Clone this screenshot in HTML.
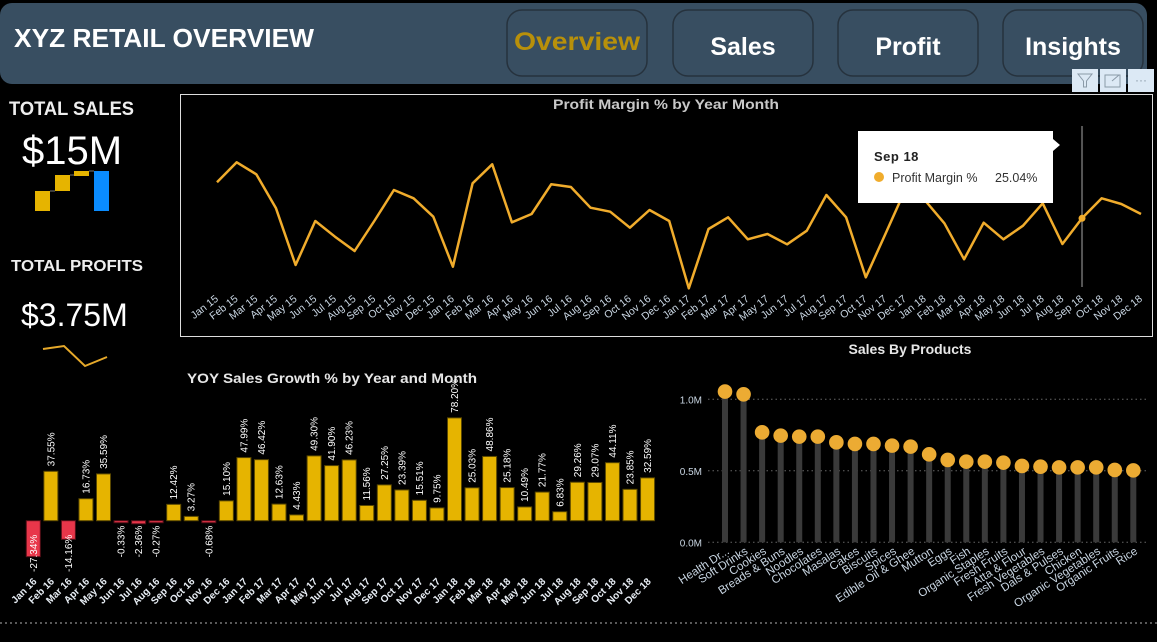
<!DOCTYPE html>
<html><head><meta charset="utf-8"><style>
html,body{margin:0;padding:0;background:#000;width:1157px;height:642px;overflow:hidden}
svg{display:block;font-family:"Liberation Sans","DejaVu Sans",sans-serif}
</style></head><body>
<svg id="s" width="1157" height="642" viewBox="0 0 1157 642">
<rect x="0" y="0" width="1157" height="642" fill="#000"/>
<rect x="0" y="3" width="1147" height="81" rx="12" fill="#384e61"/>
<text x="14" y="47" font-size="26" font-weight="bold" fill="#fff" textLength="300" lengthAdjust="spacingAndGlyphs">XYZ RETAIL OVERVIEW</text>
<g><rect x="507" y="10" width="140" height="66" rx="15" fill="#384e61" stroke="#26323d" stroke-width="1.5"/><text x="577" y="50" font-size="25" font-weight="bold" fill="#b8900a" text-anchor="middle" textLength="126" lengthAdjust="spacingAndGlyphs">Overview</text></g>
<g><rect x="673" y="10" width="140" height="66" rx="15" fill="#384e61" stroke="#26323d" stroke-width="1.5"/><text x="743" y="55" font-size="25" font-weight="bold" fill="#fff" text-anchor="middle">Sales</text></g>
<g><rect x="838" y="10" width="140" height="66" rx="15" fill="#384e61" stroke="#26323d" stroke-width="1.5"/><text x="908" y="55" font-size="25" font-weight="bold" fill="#fff" text-anchor="middle">Profit</text></g>
<g><rect x="1003" y="10" width="140" height="66" rx="15" fill="#384e61" stroke="#26323d" stroke-width="1.5"/><text x="1073" y="55" font-size="25" font-weight="bold" fill="#fff" text-anchor="middle">Insights</text></g>
<g><rect x="1072" y="69" width="26" height="23" fill="#dce9f5"/><path d="M1078 74h14l-5.5 7v6h-3v-6z" fill="none" stroke="#8a9aa8"/></g>
<g><rect x="1100" y="69" width="26" height="23" fill="#dce9f5"/><rect x="1105" y="75" width="15" height="12" fill="none" stroke="#8a9aa8"/><path d="M1112 81l7-6" stroke="#8a9aa8"/></g>
<g><rect x="1128" y="69" width="26" height="23" fill="#dce9f5"/><text x="1141" y="84" font-size="12" fill="#8a9aa8" text-anchor="middle">···</text></g>

<text x="9" y="115" font-size="19" font-weight="bold" fill="#eee" textLength="125" lengthAdjust="spacingAndGlyphs">TOTAL SALES</text>
<text x="22" y="164" font-size="40" fill="#fff">$15M</text>
<g>
<rect x="35" y="191" width="15" height="20" fill="#e6b400"/><rect x="55" y="175" width="15" height="16" fill="#e6b400"/><rect x="74" y="171" width="15" height="5" fill="#e6b400"/><rect x="94" y="171" width="15" height="40" fill="#0a8cff"/>
<path d="M50 191h5M70 175h4M89 171h5" stroke="#777"/></g>
<text x="11" y="271" font-size="16" font-weight="bold" fill="#eee" textLength="132" lengthAdjust="spacingAndGlyphs">TOTAL PROFITS</text>
<text x="21" y="326" font-size="32" fill="#fff">$3.75M</text>
<polyline points="43,349 64,346 85,366 107,357" fill="none" stroke="#e6a92a" stroke-width="2"/>

<rect x="180.5" y="94.5" width="972" height="242" fill="none" stroke="#ddd"/>
<text x="553" y="109" font-size="14" font-weight="bold" fill="#c8c8c8" textLength="226" lengthAdjust="spacingAndGlyphs">Profit Margin % by Year Month</text>
<g id="lineG"></g>

<text x="187" y="383" font-size="14" font-weight="bold" fill="#e6e6e6" textLength="290" lengthAdjust="spacingAndGlyphs">YOY Sales Growth % by Year and Month</text>
<g id="barG"></g>

<text x="910" y="354" font-size="14" font-weight="bold" fill="#e6e6e6" text-anchor="middle">Sales By Products</text>
<g id="lolG"></g>
<line x1="0" y1="623" x2="1157" y2="623" stroke="#777" stroke-width="1.5" stroke-dasharray="2,3"/>
</svg>
<script>
const NS="http://www.w3.org/2000/svg";
function mk(p,t,a){const e=document.createElementNS(NS,t);for(const k in a)e.setAttribute(k,a[k]);p.appendChild(e);return e;}
const mon=["Jan","Feb","Mar","Apr","May","Jun","Jul","Aug","Sep","Oct","Nov","Dec"];
const lineMonths=[];for(let y=15;y<=18;y++)for(const m of mon)lineMonths.push(m+" "+y);
const marginValues=[28.64,30.64,29.44,26.04,20.37,24.77,23.20,21.77,24.77,27.87,27.04,25.20,20.20,28.54,30.44,24.64,25.47,28.44,28.17,26.10,25.70,24.10,25.87,24.77,18.04,23.97,25.14,22.94,23.47,22.44,23.80,27.37,25.14,19.14,23.47,27.87,26.87,24.54,20.94,24.60,22.94,24.30,26.54,22.47,25.04,27.04,26.47,25.47];
const yoyMonths=[];for(let y=16;y<=18;y++)for(const m of mon)yoyMonths.push(m+" "+y);
const yoyValues=[-27.34,37.55,-14.16,16.73,35.59,-0.33,-2.36,-0.27,12.42,3.27,-0.68,15.10,47.99,46.42,12.63,4.43,49.30,41.90,46.23,11.56,27.25,23.39,15.51,9.75,78.20,25.03,48.86,25.18,10.49,21.77,6.83,29.26,29.07,44.11,23.85,32.59];
const products=["Health Dr...","Soft Drinks","Cookies","Breads & Buns","Noodles","Chocolates","Masalas","Cakes","Biscuits","Spices","Edible Oil & Ghee","Mutton","Eggs","Fish","Organic Staples","Fresh Fruits","Atta & Flour","Fresh Vegetables","Dals & Pulses","Chicken","Organic Vegetables","Organic Fruits","Rice"];
const productSales=[1.054,1.035,0.769,0.746,0.739,0.739,0.699,0.688,0.688,0.676,0.669,0.615,0.576,0.564,0.564,0.557,0.534,0.529,0.524,0.524,0.524,0.506,0.503];
const productTicks=[0,0.5,1.0];
const productTickLabels=["0.0M","0.5M","1.0M"];

// line chart
const LG=document.getElementById('lineG');
const lx=i=>217+i*(924/(marginValues.length-1));
const ly=v=>218.3-(v-25.04)*10;
const hi=44;
mk(LG,'line',{x1:lx(hi),y1:126,x2:lx(hi),y2:287,stroke:'#555','stroke-width':2});
let pts=marginValues.map((v,i)=>lx(i).toFixed(1)+","+ly(v).toFixed(1)).join(" ");
const pl=mk(LG,'polyline',{points:pts,fill:'none',stroke:'#f0ac2c','stroke-width':2.5,'stroke-linejoin':'round'});


const hd=mk(LG,'circle',{cx:lx(hi),cy:ly(marginValues[hi]),r:3.5,fill:'#f0ac2c'});


lineMonths.forEach((m,i)=>{const t=mk(LG,'text',{x:lx(i)+2,y:300,'font-size':10.5,fill:'#c9d6e3','text-anchor':'end',transform:`rotate(-38 ${lx(i)+2} 300)`});t.textContent=m;

});
const tt=mk(LG,'g',{});


mk(tt,'rect',{x:858,y:131,width:195,height:72,fill:'#fff'});
mk(tt,'path',{d:'M1053 139L1060 145L1053 151Z',fill:'#fff'});
let t1=mk(tt,'text',{x:874,y:161,'font-size':13,'font-weight':'bold',fill:'#222','letter-spacing':'0.5'});t1.textContent=lineMonths[hi];
mk(tt,'circle',{cx:879,cy:177,r:5,fill:'#f0ac2c'});
let t2=mk(tt,'text',{x:892,y:182,'font-size':12.5,fill:'#333'});t2.textContent="Profit Margin %";
let t3=mk(tt,'text',{x:995,y:182,'font-size':12.5,fill:'#333'});t3.textContent=marginValues[hi].toFixed(2)+"%";

// bar chart
const BG=document.getElementById('barG');
const bx=i=>33.3+i*17.55;
const zero=520.7, bs=1.315;
yoyValues.forEach((v,i)=>{
 const h=Math.abs(v)*bs, x=bx(i)-7;
 const r=mk(BG,'rect',{x:x,y:v>=0?zero-h:zero,width:14,height:Math.max(h,2),fill:v>=0?'#e6b400':'#e8364a',stroke:v>=0?'#5a4800':'#5a1018','stroke-width':1});
 
 
 let tx=bx(i)+3.5, ty, anc;
 if(v>=0){ty=zero-h-5;anc='start';}else{ty=zero+(h<5?5:14);anc='end';}
 const lab=mk(BG,'text',{x:tx,y:ty,'font-size':10,fill:'#fff','text-anchor':anc,transform:`rotate(-90 ${tx} ${ty})`});
 lab.textContent=v.toFixed(2)+"%";
 
 
 const xl=mk(BG,'text',{x:bx(i)+4,y:582,'font-size':10,'font-weight':'bold',fill:'#e8eef5','text-anchor':'end',transform:`rotate(-45 ${bx(i)+4} 582)`});
 xl.textContent=yoyMonths[i];
 
 
});

// lollipop chart
const PG=document.getElementById('lolG');
const px=i=>725+i*18.56;
const py=v=>542.3-v*143;
productTicks.forEach((t,k)=>{
 const g=mk(PG,'line',{x1:708,x2:1147,y1:py(t),y2:py(t),stroke:'#666','stroke-dasharray':'1.5,3'});
 
 
 const tl=mk(PG,'text',{x:702,y:py(t)+4,'font-size':10,fill:'#c9d6e3','text-anchor':'end'});
 tl.textContent=productTickLabels[k];
 
 
});
productSales.forEach((v,i)=>{
 const st=mk(PG,'rect',{x:px(i)-3,y:py(v),width:6,height:542.3-py(v),fill:'#3a3a3a'});
 
 
 const c=mk(PG,'circle',{cx:px(i),cy:py(v),r:7.3,fill:'#ecab33'});
 
 
 const xl=mk(PG,'text',{x:px(i)+5,y:553,'font-size':11.5,fill:'#c9d6e3','text-anchor':'end',transform:`rotate(-33 ${px(i)+5} 553)`});
 xl.textContent=products[i];
 
 
});
</script>
</body></html>
